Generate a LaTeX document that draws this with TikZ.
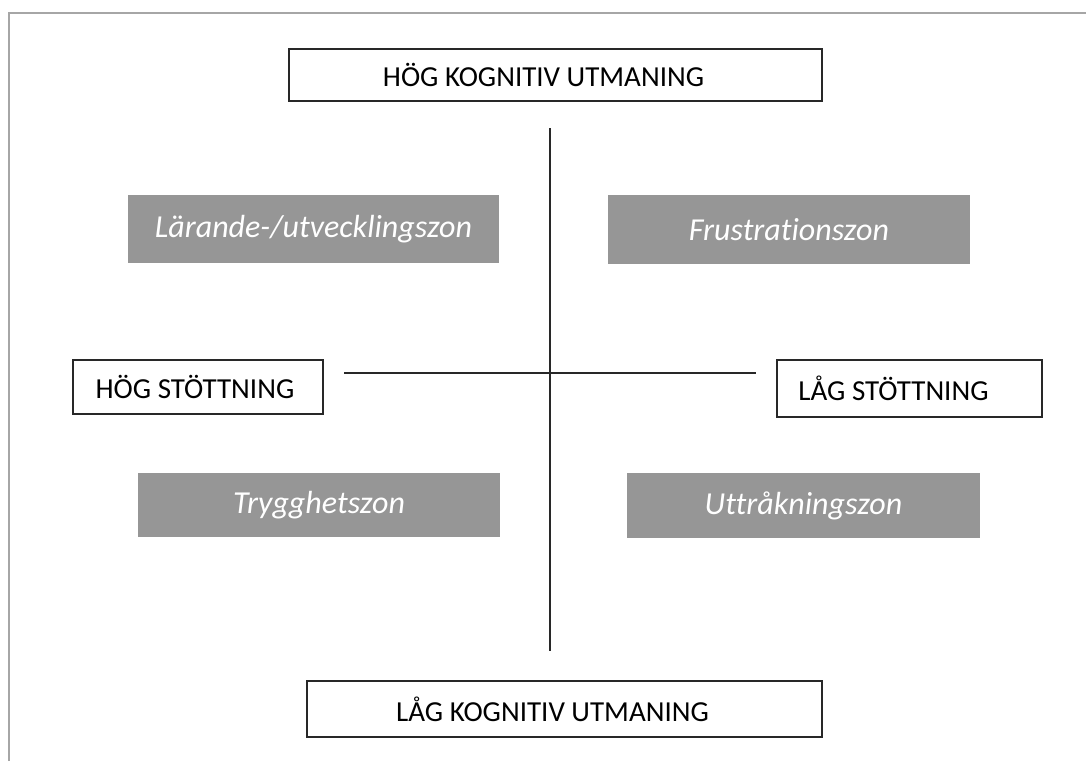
\documentclass[tikz,border=0pt]{standalone}
\usepackage{fontspec}
\setmainfont{Carlito}[Ligatures=NoCommon]
\definecolor{zonegray}{RGB}{150,150,150}
\definecolor{framegray}{RGB}{166,166,166}
\definecolor{linedark}{RGB}{40,40,40}
\tikzset{
  x=1pt, y=-1pt,
  labelbox/.style={draw=linedark, line width=1.2pt, fill=white, inner sep=0pt,
    font=\fontsize{29}{34}\selectfont, text=black},
  zonebox/.style={fill=zonegray, draw=none, inner sep=0pt,
    font=\fontsize{32}{38}\selectfont\itshape, text=white},
  axis/.style={draw=linedark, line width=1.1pt},
}
\begin{document}
\begin{tikzpicture}
\useasboundingbox (0,0) rectangle (1086,761);
\fill[white] (0,0) rectangle (1086,761);
% frame (top and left only)
\draw[framegray, line width=2pt] (9,761) -- (9,13) -- (1086,13);

% axes
\coordinate (vtop) at (550,128);
\coordinate (vbot) at (550,651);
\coordinate (hleft) at (344,373);
\coordinate (hright) at (756,373);
\draw[axis] (vtop) -- (vbot);
\draw[axis] (hleft) -- (hright);

% label boxes
\node[labelbox, minimum width=533pt, minimum height=52pt] (hkog) at (555.5,75) {HÖG KOGNITIV UTMANING\hspace*{24pt}};
\node[labelbox, minimum width=515pt, minimum height=56pt] (lkog) at (564.5,709) {LÅG KOGNITIV UTMANING\hspace*{24pt}};
\node[labelbox, minimum width=250pt, minimum height=54pt] (hst) at (198,387) {HÖG STÖTTNING\hspace*{6pt}};
\node[labelbox, minimum width=265pt, minimum height=57pt] (lst) at (909.5,388.5) {LÅG STÖTTNING\hspace*{32pt}};

% zone boxes
\node[zonebox, minimum width=371pt, minimum height=68pt] (lar) at (313.5,229) {Lärande-/utvecklingszon};
\node[zonebox, minimum width=362pt, minimum height=69pt] (fru) at (789,229.5) {Frustrationszon};
\node[zonebox, minimum width=362pt, minimum height=64pt] (try) at (319,505) {Trygghetszon};
\node[zonebox, minimum width=353pt, minimum height=65pt] (utt) at (803.5,505.5) {Uttråkningszon};
\end{tikzpicture}
\end{document}
